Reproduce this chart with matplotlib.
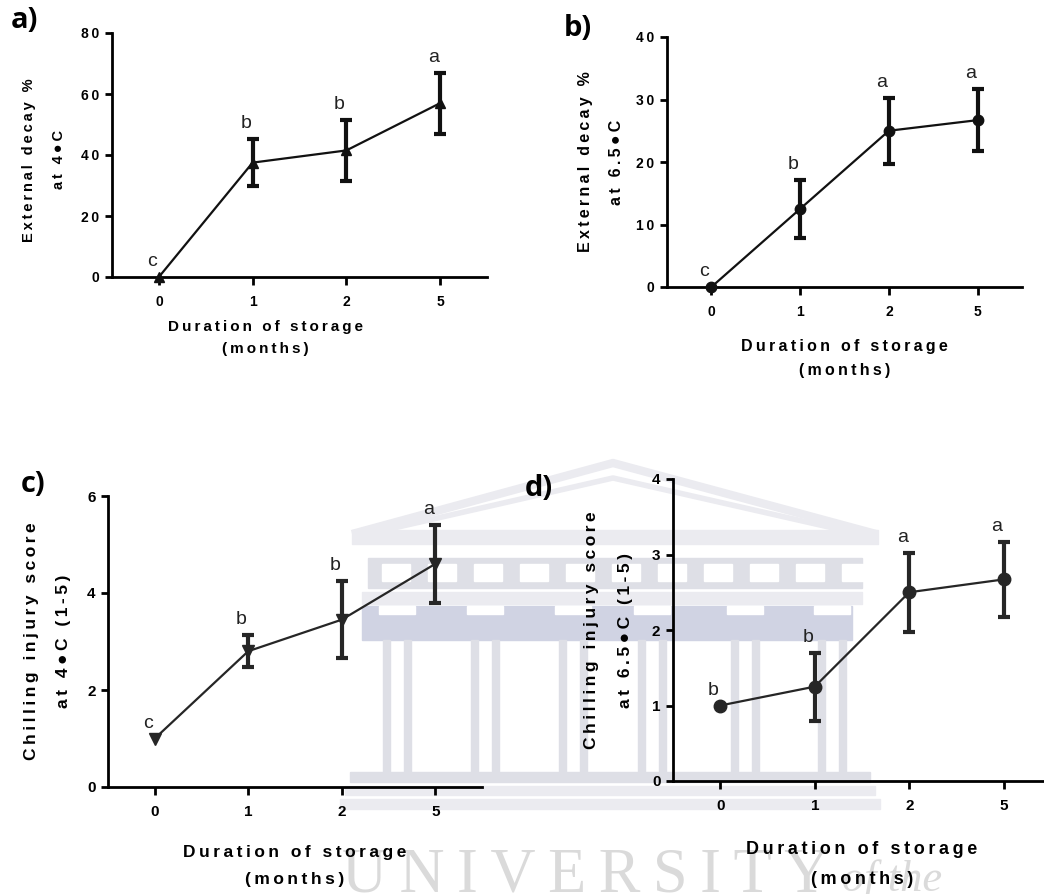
import matplotlib
matplotlib.use('Agg')
import matplotlib.pyplot as plt
from matplotlib.patches import Rectangle

plt.rcParams['font.family'] = ['Liberation Sans', 'DejaVu Sans']

# storage months on the x axis
months = ['0', '1', '2', '5']

# a) external decay % at 4 C
decay_4 = [0, 37.5, 41.5, 57.0]
decay_4_err = [0, 7.8, 10.0, 10.0]
decay_4_grp = ['c', 'b', 'b', 'a']

# b) external decay % at 6.5 C
decay_65 = [0, 12.5, 25.0, 26.7]
decay_65_err = [0, 4.6, 5.3, 5.0]
decay_65_grp = ['c', 'b', 'a', 'a']

# c) chilling injury score at 4 C
chill_4 = [1.0, 2.8, 3.45, 4.6]
chill_4_err = [0, 0.33, 0.8, 0.8]
chill_4_grp = ['c', 'b', 'b', 'a']

# d) chilling injury score at 6.5 C
chill_65 = [1.0, 1.25, 2.5, 2.67]
chill_65_err = [0, 0.45, 0.52, 0.5]
chill_65_grp = ['b', 'b', 'a', 'a']

W, H = 1044, 894
fig = plt.figure(figsize=(W / 100, H / 100), dpi=100)


def sp(s):
    # prism style letter spacing
    return '\u2009'.join(s)


def frac(x0, y0, x1, y1):
    return [x0 / W, 1 - y1 / H, (x1 - x0) / W, (y1 - y0) / H]


# faint watermark in the background (building + text)
wm = fig.add_axes([0, 0, 1, 1], zorder=0)
wm.set_xlim(0, W)
wm.set_ylim(H, 0)
wm.axis('off')
g1, g2, blu = '#ebebf0', '#dedfe6', '#d0d3e3'
wm.plot([352, 613, 876], [534, 463, 534], color=g1, lw=6, solid_capstyle='butt')
wm.plot([385, 613, 842], [530, 478, 530], color=g1, lw=4)
wm.add_patch(Rectangle((352, 530), 526, 14, color=g1))
wm.add_patch(Rectangle((368, 558), 494, 30, color=g2))
for xx in range(382, 850, 46):
    wm.add_patch(Rectangle((xx, 564), 28, 17, color='white'))
wm.add_patch(Rectangle((362, 592), 500, 12, color=g1))
wm.add_patch(Rectangle((362, 606), 490, 34, color=blu))
for cx in [397, 485, 573, 652, 745, 832]:
    wm.add_patch(Rectangle((cx - 18, 606), 36, 8, color='white'))
    wm.add_patch(Rectangle((cx - 14, 640), 7, 132, color=g2))
    wm.add_patch(Rectangle((cx + 7, 640), 7, 132, color=g2))
wm.add_patch(Rectangle((350, 772), 520, 10, color=g2))
wm.add_patch(Rectangle((345, 786), 530, 9, color=g1))
wm.add_patch(Rectangle((340, 799), 540, 10, color=g1))
wm.text(342, 891, sp('UNIVERSITY'), family='Liberation Serif', fontsize=45,
        color='#dadada', va='baseline', ha='left')
wm.text(842, 891, 'of the', family='Liberation Serif', style='italic',
        fontsize=32, color='#dadada', va='baseline', ha='left')


def panel(rect, mean, err, grp, marker, ms, ymax, ystep, ylabel, tag, tagpos,
          fs_tick, fs_x, fs_y, ylab_xy, xlab_xy, color, xlab_ls, ylab_ls):
    ax = fig.add_axes(rect, zorder=1)
    ax.set_facecolor('none')
    x = list(range(len(months)))
    ax.plot(x, mean, color=color, lw=1.6, marker=marker, ms=ms, clip_on=False, zorder=4)
    for xi, m, e in zip(x, mean, err):
        if e > 0:
            ax.errorbar(xi, m, yerr=e, fmt='none', ecolor=color, elinewidth=3,
                        capsize=4, capthick=3, zorder=3)
        ax.annotate(grp[xi], (xi, m + e), xytext=(-5, 11), textcoords='offset points',
                    ha='center', va='center', fontsize=14, color='#222222')
    ax.set_xlim(-0.5, 3.5)
    ax.set_ylim(0, ymax)
    ax.set_xticks(x)
    ax.set_xticklabels(months)
    yt = list(range(0, ymax + 1, ystep))
    ax.set_yticks(yt)
    ax.set_yticklabels([sp(str(v)) for v in yt])
    for lbl in ax.get_xticklabels() + ax.get_yticklabels():
        lbl.set_fontweight('bold')
        lbl.set_fontsize(fs_tick)
    for s in ['top', 'right']:
        ax.spines[s].set_visible(False)
    for s in ['left', 'bottom']:
        ax.spines[s].set_linewidth(2)
    ax.tick_params(axis='y', direction='out', length=5, width=2, pad=4)
    ax.tick_params(axis='x', direction='out', length=6, width=2, pad=7)
    ax.set_xlabel(sp('Duration of storage') + '\n' + sp('(months)'),
                  fontweight='bold', fontsize=fs_x, linespacing=xlab_ls)
    ax.xaxis.set_label_coords(*xlab_xy)
    ax.set_ylabel(ylabel, fontweight='bold', fontsize=fs_y, linespacing=ylab_ls)
    ax.yaxis.set_label_coords(*ylab_xy)
    ax.yaxis.label.set_verticalalignment('center')
    fig.text(tagpos[0] / W, 1 - tagpos[1] / H, tag, family='Open Sans',
             fontweight='bold', fontsize=21, ha='center', va='center')
    return ax


deg = '\u25cf'

panel(frac(112, 33, 487, 277), decay_4, decay_4_err, decay_4_grp, '^', 7, 80, 20,
      sp('External decay %') + '\n' + sp('at 4' + deg + 'C'), 'a)', (24, 20),
      10, 11, 10.5, (-0.181, 0.48), (0.41, -0.175), '#111111', 1.8, 2.45)

panel(frac(667, 37, 1022, 287), decay_65, decay_65_err, decay_65_grp, 'o', 7.5, 40, 10,
      sp('External decay %') + '\n' + sp('at 6.5' + deg + 'C'), 'b)', (578, 29),
      10, 11.5, 11.5, (-0.185, 0.5), (0.5, -0.21), '#111111', 1.7, 2.35)

panel(frac(108, 496, 482, 787), chill_4, chill_4_err, chill_4_grp, 'v', 8, 6, 2,
      sp('Chilling injury score') + '\n' + sp('at 4' + deg + 'C (1-5)'), 'c)', (33, 485),
      11, 12.5, 12.5, (-0.161, 0.5), (0.5, -0.2), '#262626', 1.95, 2.45)

panel(frac(673, 479, 1051, 781), chill_65, chill_65_err, chill_65_grp, 'o', 9, 4, 1,
      sp('Chilling injury score') + '\n' + sp('at 6.5' + deg + 'C (1-5)'), 'd)', (539, 488),
      11, 13, 12.5, (-0.17, 0.5), (0.5, -0.2), '#262626', 2.0, 2.55)

fig.savefig('out.png', dpi=100)
